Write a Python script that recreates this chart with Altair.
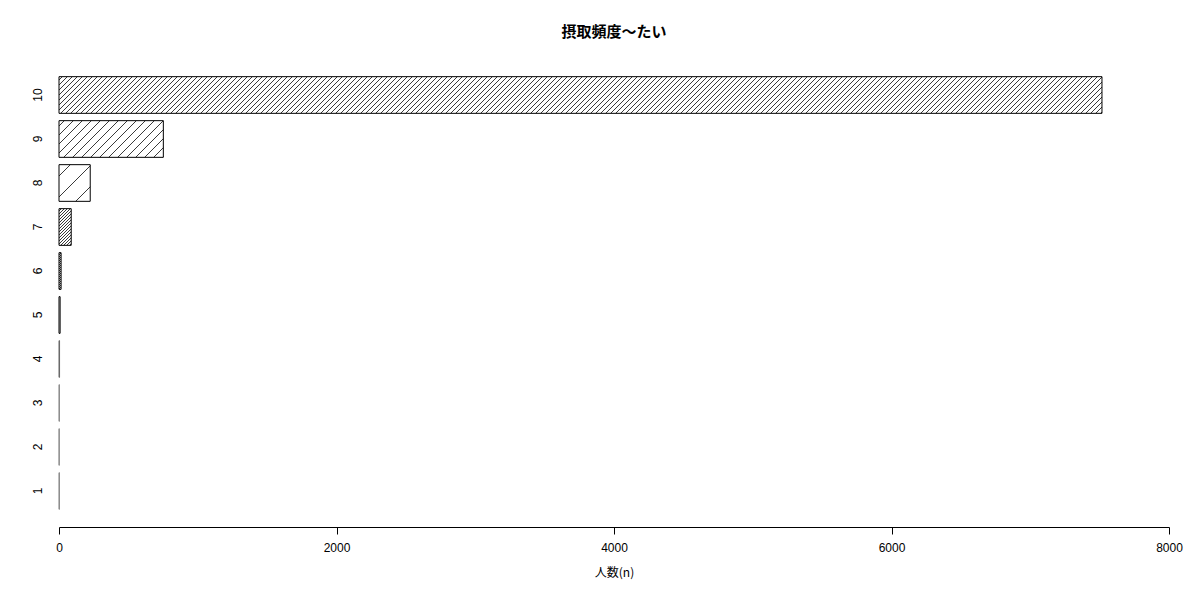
import altair as alt
import pandas as pd

# ---- data ----
categories = ["1", "2", "3", "4", "5", "6", "7", "8", "9", "10"]
counts = [3, 2, 3, 4, 8, 15, 88, 225, 752, 7517]
x_ticks = [0, 2000, 4000, 6000, 8000]

# ---- style: hatch line spacing (px, horizontal) per bar, None = plain ----
hatch_spacing = [None, None, None, None, None, 2, 3, 21, 9, 5]
border_colors = ["#888", "#888", "#888", "#666", "black", "black", "black", "black", "black", "black"]

X_MAX = 8000
WIDTH = 1110
HEIGHT = 440
P_INNER = 1 / 6
P_OUTER = 1 / 12
BAR_H = HEIGHT / 10 * (1 - P_INNER)

df = pd.DataFrame({"cat": categories, "n": counts})


def hatch_gradient(value, spacing, line=1.0, color="#3a3a3a"):
    W = max(value * WIDTH / X_MAX, 0.5)
    H = BAR_H
    r = H / W
    k = (1 + r) / (1 + r * r)
    total = W + H
    stops = [{"offset": 0, "color": "white"}]
    c = float(spacing // 2 + 1)
    while c < total:
        a = max(0.0, (c - line / 2) / total)
        b = min(1.0, (c + line / 2) / total)
        stops += [
            {"offset": a, "color": "white"},
            {"offset": a, "color": color},
            {"offset": b, "color": color},
            {"offset": b, "color": "white"},
        ]
        c += spacing
    stops.append({"offset": 1, "color": "white"})
    return {"gradient": "linear", "x1": 0, "y1": 0, "x2": k, "y2": k * r, "stops": stops}


x_enc = alt.X(
    "n:Q",
    scale=alt.Scale(domain=[0, X_MAX], nice=False, zero=True),
    axis=alt.Axis(
        values=x_ticks,
        title="人数(n)",
        offset=14,
        grid=False,
        tickSize=7,
        tickColor="black",
        domainColor="black",
        labelFlush=False,
        labelPadding=8,
        labelFontSize=12,
        labelFont="Liberation Sans",
        labelColor="black",
        titleFont="Noto Sans CJK JP",
        titleFontSize=12,
        titleFontWeight="normal",
        titleColor="black",
        titlePadding=14,
        format="d",
    ),
)
y_enc = alt.Y(
    "cat:N",
    sort=categories[::-1],
    scale=alt.Scale(paddingInner=P_INNER, paddingOuter=P_OUTER),
    axis=alt.Axis(
        title=None,
        domain=False,
        ticks=False,
        tickSize=0,
        labelAngle=270,
        labelAlign="center",
        labelBaseline="bottom",
        labelPadding=15,
        labelFontSize=12,
        labelFont="Liberation Sans",
        labelColor="black",
    ),
)

layers = []
for cat, val, sp, bc in zip(categories, counts, hatch_spacing, border_colors):
    fill = "white" if sp is None else hatch_gradient(val, sp)
    layers.append(
        alt.Chart(df)
        .transform_filter(alt.datum.cat == cat)
        .mark_bar(fill=fill, stroke=bc, strokeWidth=1, opacity=1)
        .encode(x=x_enc, y=y_enc)
    )

chart = (
    alt.layer(*layers)
    .properties(
        width=WIDTH,
        height=HEIGHT,
        autosize=alt.AutoSizeParams(type="none"),
        padding={"left": 51, "top": 65, "right": 20, "bottom": 100},
        background="white",
        title=alt.Title(
            "摂取頻度〜たい",
            font="Noto Sans CJK JP",
            fontSize=15,
            fontWeight="bold",
            color="black",
            anchor="middle",
            frame="group",
            baseline="bottom",
            offset=18,
        ),
    )
    .configure_view(strokeWidth=0)
)

chart.save("out.html", embed_options={"renderer": "svg", "actions": False})
